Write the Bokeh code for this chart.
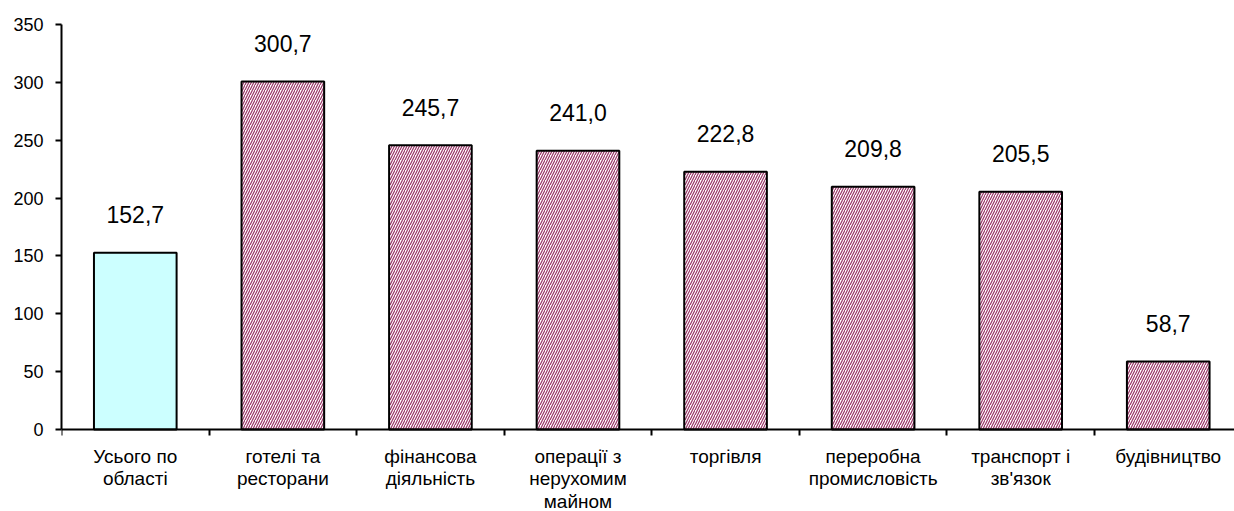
from bokeh.plotting import figure
from bokeh.models import Range1d, FixedTicker, ColumnDataSource
from bokeh.core.properties import value
from bokeh.embed import file_html
from bokeh.resources import INLINE

categories = ["Усього по\nобласті", "готелі та\nресторани", "фінансова\nдіяльність",
              "операції з\nнерухомим\nмайном", "торгівля", "переробна\nпромисловість",
              "транспорт і\nзв'язок", "будівництво"]
values = [152.7, 300.7, 245.7, 241.0, 222.8, 209.8, 205.5, 58.7]
y_ticks = [0, 50, 100, 150, 200, 250, 300, 350]

FONT = "Liberation Sans"
n = len(categories)
centers = [i + 0.5 for i in range(n)]
fills = ["#CCFFFF"] + ["#FFFFFF"] * (n - 1)
hatches = [" "] + ["/"] * (n - 1)
labels = [f"{v:.1f}".replace(".", ",") for v in values]

src = ColumnDataSource(dict(x=centers, top=values, fill=fills, hatch=hatches, lbl=labels))

# frame reaches the bottom of the canvas; the x axis is pinned at y = 0
p = figure(width=1234, height=511, x_range=Range1d(0, 7.949), y_range=Range1d(-70.86, 350),
           output_backend="svg", toolbar_location=None,
           min_border_left=61, min_border_right=0, min_border_top=24, min_border_bottom=0)
p.xgrid.visible = False
p.ygrid.visible = False
p.outline_line_color = None
p.background_fill_color = "white"
p.border_fill_color = "white"

p.vbar(x="x", top="top", bottom=0, width=0.56, source=src,
       fill_color="fill", hatch_pattern="hatch", hatch_color="#993366",
       hatch_scale=5, hatch_weight=1.2, line_color="black", line_width=2)

p.text(x="x", y="top", text="lbl", source=src, text_align="center",
       text_baseline="middle", y_offset=-38,
       text_font=value(FONT), text_font_size="23px", text_color="black")

# x axis: boundary ticks as minor ticks, category labels at centers
xa = p.xaxis[0]
xa.fixed_location = 0
xa.ticker = FixedTicker(ticks=centers, minor_ticks=list(range(n + 1)))
xa.major_label_overrides = {c: cat for c, cat in zip(centers, categories)}
xa.axis_line_color = "black"
xa.axis_line_width = 2
xa.minor_tick_line_color = "black"
xa.minor_tick_line_width = 2
xa.minor_tick_in = 0
xa.minor_tick_out = 6
xa.major_tick_line_color = None
xa.major_tick_in = 0
xa.major_tick_out = 6
xa.major_label_standoff = 10
xa.major_label_text_font = FONT
xa.major_label_text_font_size = "19px"
xa.major_label_text_line_height = 1.08
xa.major_label_text_color = "black"

ya = p.yaxis[0]
ya.bounds = (0, 350)
ya.ticker = FixedTicker(ticks=y_ticks)
ya.axis_line_color = "black"
ya.axis_line_width = 2
ya.major_tick_line_color = "black"
ya.major_tick_line_width = 2
ya.major_tick_in = 0
ya.major_tick_out = 6
ya.minor_tick_line_color = None
ya.major_label_standoff = 12
ya.major_label_text_font = FONT
ya.major_label_text_font_size = "18px"
ya.major_label_text_color = "black"

open("out.html", "w").write(file_html(p, INLINE))
